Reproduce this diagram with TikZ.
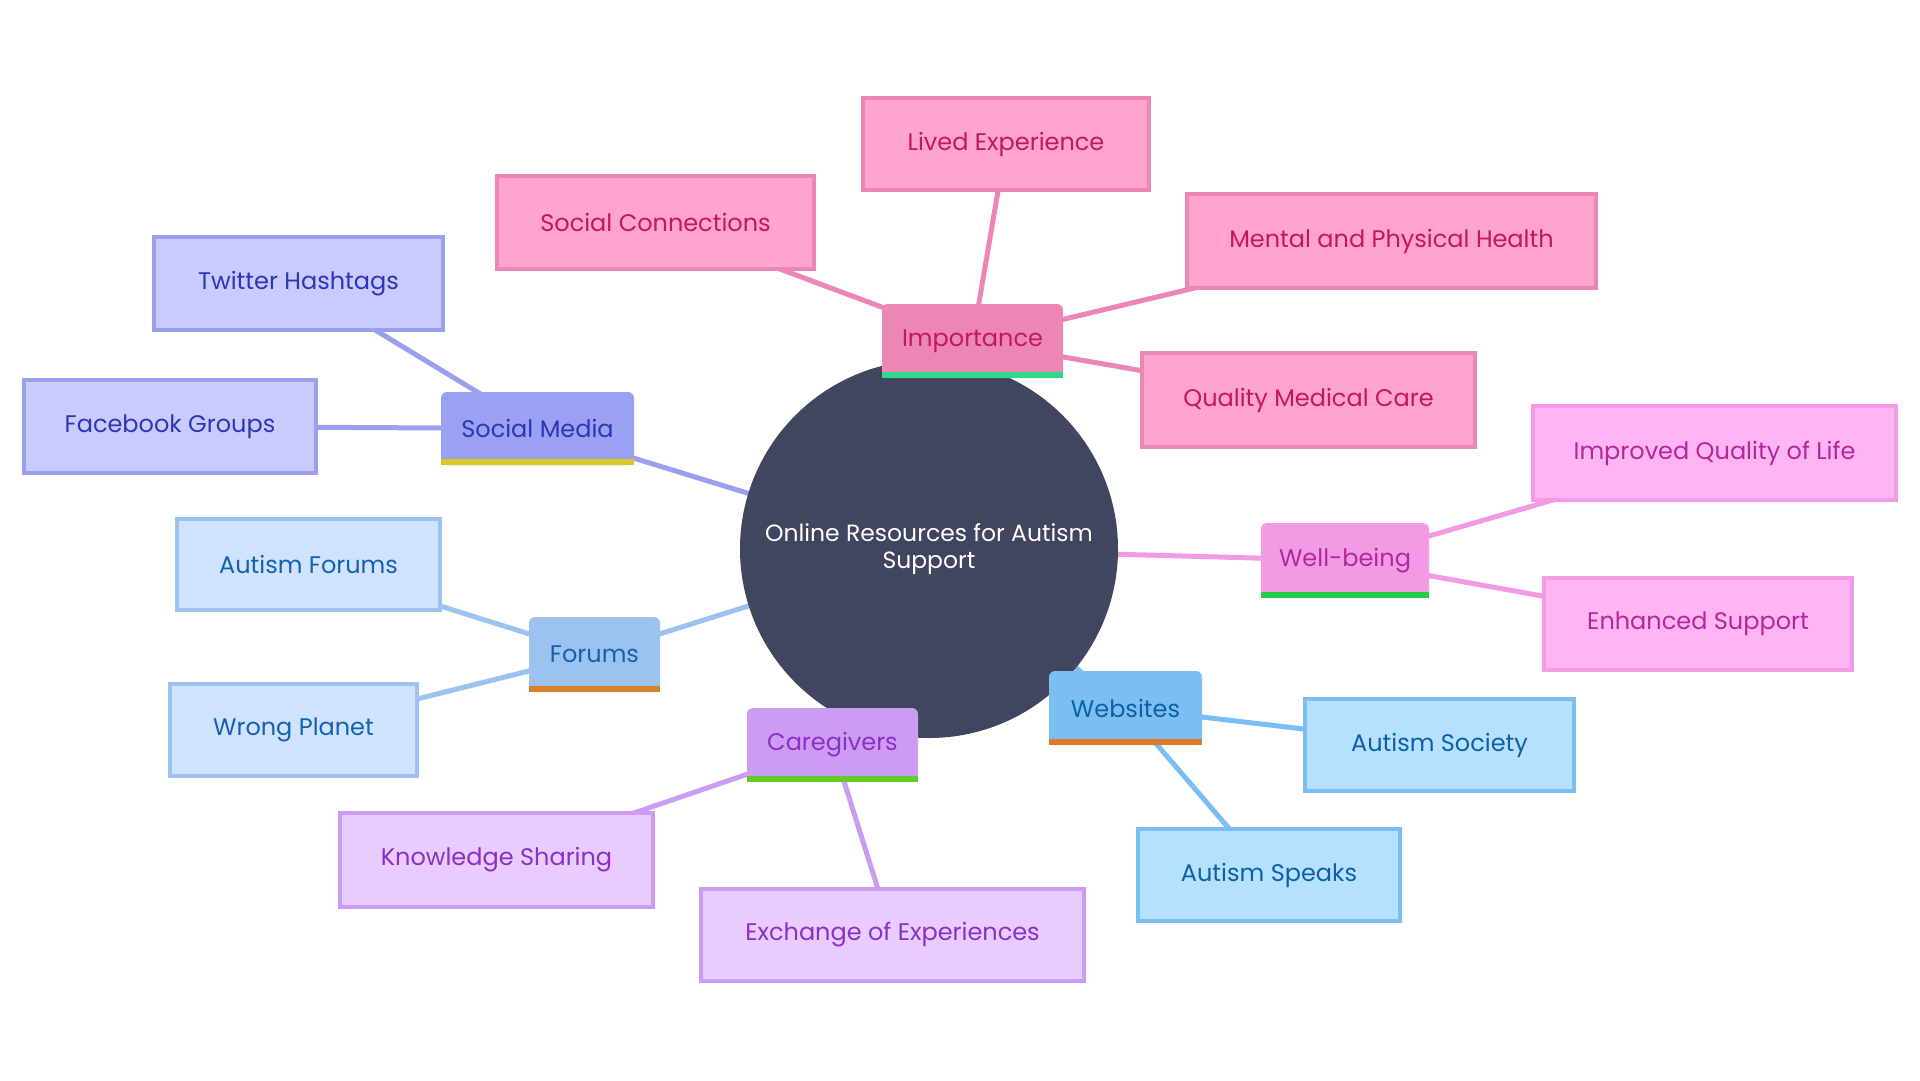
\documentclass[tikz,border=0pt]{standalone}
\usepackage{fontspec}
\setmainfont{Poppins}
\pgfdeclarelayer{bg}
\pgfsetlayers{bg,main}
\begin{document}
\begin{tikzpicture}[x=1pt,y=-1pt,
  base/.style={font=\fontsize{24}{27}\selectfont, inner sep=0pt, align=center},
  cat/.style={base, rounded corners=6pt},
  leaf/.style={base, line width=4pt},
  edge/.style={line width=5pt}]
\definecolor{smF}{HTML}{9AA0F2}\definecolor{smT}{HTML}{2D35B8}\definecolor{smB}{HTML}{D8C82A}
\definecolor{smL}{HTML}{C9CBFF}\definecolor{smE}{HTML}{9AA0EE}
\definecolor{imF}{HTML}{EC86B5}\definecolor{imT}{HTML}{C4185E}\definecolor{imB}{HTML}{2FD88A}
\definecolor{imL}{HTML}{FFA3CF}\definecolor{imE}{HTML}{EC86B5}
\definecolor{wbF}{HTML}{F39AE5}\definecolor{wbT}{HTML}{B5279C}\definecolor{wbB}{HTML}{22CC44}
\definecolor{wbL}{HTML}{FFB5F2}\definecolor{wbE}{HTML}{F39AE5}
\definecolor{wsF}{HTML}{7BBFF2}\definecolor{wsT}{HTML}{0D5FA8}\definecolor{wsB}{HTML}{E07B2A}
\definecolor{wsL}{HTML}{B5E0FF}\definecolor{wsE}{HTML}{7BBFF2}
\definecolor{cgF}{HTML}{CC9CF2}\definecolor{cgT}{HTML}{8A2FC8}\definecolor{cgB}{HTML}{66CC22}
\definecolor{cgL}{HTML}{E8CCFF}\definecolor{cgE}{HTML}{CC9CF2}
\definecolor{foF}{HTML}{9CC3F0}\definecolor{foT}{HTML}{1560B0}\definecolor{foB}{HTML}{D9822B}
\definecolor{foL}{HTML}{CFE3FF}\definecolor{foE}{HTML}{9CC3F0}
\definecolor{ctr}{HTML}{404560}
\useasboundingbox (0,0) rectangle (1920,1080);
% leaves
\node[leaf, fill=smL, draw=smE, text=smT, minimum width=289, minimum height=93] (tw) at (298.5,283.5) {Twitter Hashtags};
\node[leaf, fill=smL, draw=smE, text=smT, minimum width=292, minimum height=93] (fb) at (170,426.5) {Facebook Groups};
\node[leaf, fill=foL, draw=foE, text=foT, minimum width=263, minimum height=91] (af) at (308.5,564.5) {Autism Forums};
\node[leaf, fill=foL, draw=foE, text=foT, minimum width=247, minimum height=92] (wp) at (293.5,730) {Wrong Planet};
\node[leaf, fill=cgL, draw=cgE, text=cgT, minimum width=313, minimum height=94] (ks) at (496.5,860) {Knowledge Sharing};
\node[leaf, fill=cgL, draw=cgE, text=cgT, minimum width=383, minimum height=92] (ee) at (892.5,935) {Exchange of Experiences};
\node[leaf, fill=wsL, draw=wsE, text=wsT, minimum width=269, minimum height=92] (as) at (1439.5,745) {Autism Society};
\node[leaf, fill=wsL, draw=wsE, text=wsT, minimum width=262, minimum height=92] (asp) at (1269,875) {Autism Speaks};
\node[leaf, fill=wbL, draw=wbE, text=wbT, minimum width=363, minimum height=94] (iq) at (1714.5,453) {Improved Quality of Life};
\node[leaf, fill=wbL, draw=wbE, text=wbT, minimum width=308, minimum height=92] (es) at (1698,624) {Enhanced Support};
\node[leaf, fill=imL, draw=imE, text=imT, minimum width=317, minimum height=93] (sc) at (655.5,222.5) {Social Connections};
\node[leaf, fill=imL, draw=imE, text=imT, minimum width=286, minimum height=92] (le) at (1006,144) {Lived Experience};
\node[leaf, fill=imL, draw=imE, text=imT, minimum width=409, minimum height=94] (mp) at (1391.5,241) {Mental and Physical Health};
\node[leaf, fill=imL, draw=imE, text=imT, minimum width=333, minimum height=94] (qm) at (1308.5,400) {Quality Medical Care};
% center
\node[base, circle, fill=ctr, text=white, minimum size=378, font=\fontsize{23.5}{27}\selectfont] (ctr) at (929,549) {Online Resources for Autism\\Support};
% categories
\node[cat, fill=smF, text=smT, minimum width=193, minimum height=73] (sm) at (537.5,428.5) {Social Media};
\fill[smB] (sm.south west) rectangle ([yshift=6pt]sm.south east);
\node[cat, fill=foF, text=foT, minimum width=131, minimum height=75] (fo) at (594.5,654.5) {Forums};
\fill[foB] (fo.south west) rectangle ([yshift=6pt]fo.south east);
\node[cat, fill=cgF, text=cgT, minimum width=171, minimum height=74] (cg) at (832.5,745) {Caregivers};
\fill[cgB] (cg.south west) rectangle ([yshift=6pt]cg.south east);
\node[cat, fill=wsF, text=wsT, minimum width=153, minimum height=74] (ws) at (1125.5,708) {Websites};
\fill[wsB] (ws.south west) rectangle ([yshift=6pt]ws.south east);
\node[cat, fill=wbF, text=wbT, minimum width=168, minimum height=75] (wb) at (1345,560.5) {Well-being};
\fill[wbB] (wb.south west) rectangle ([yshift=6pt]wb.south east);
\node[cat, fill=imF, text=imT, minimum width=181, minimum height=74] (im) at (972.5,341) {Importance};
\fill[imB] (im.south west) rectangle ([yshift=6pt]im.south east);
% edges
\begin{pgfonlayer}{bg}
\draw[edge, smE] (ctr.center) -- (sm.center);
\draw[edge, foE] (ctr.center) -- (fo.center);
\draw[edge, cgE] (ctr.center) -- (cg.center);
\draw[edge, wsE] (ctr.center) -- (ws.center);
\draw[edge, wbE] (ctr.center) -- (wb.center);
\draw[edge, imE] (ctr.center) -- (im.center);
\draw[edge, smE] (sm.center) -- (tw.center);
\draw[edge, smE] (sm.center) -- (fb.center);
\draw[edge, foE] (fo.center) -- (af.center);
\draw[edge, foE] (fo.center) -- (wp.center);
\draw[edge, cgE] (cg.center) -- (ks.center);
\draw[edge, cgE] (cg.center) -- (ee.center);
\draw[edge, wsE] (ws.center) -- (as.center);
\draw[edge, wsE] (ws.center) -- (asp.center);
\draw[edge, wbE] (wb.center) -- (iq.center);
\draw[edge, wbE] (wb.center) -- (es.center);
\draw[edge, imE] (im.center) -- (sc.center);
\draw[edge, imE] (im.center) -- (le.center);
\draw[edge, imE] (im.center) -- (mp.center);
\draw[edge, imE] (im.center) -- (qm.center);
\end{pgfonlayer}
\end{tikzpicture}
\end{document}
